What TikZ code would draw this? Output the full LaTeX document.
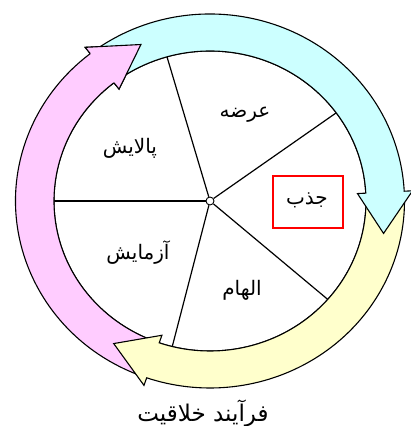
\documentclass[tikz,border=0pt]{standalone}
\usepackage{fontspec}
\newfontfamily\arabicfont[Script=Arabic]{DejaVu Sans}
\TeXXeTstate=1
\definecolor{arrcyan}{HTML}{CCFFFF}
\definecolor{arryellow}{HTML}{FFFFCC}
\definecolor{arrpink}{HTML}{FFCCFF}
\definecolor{boxred}{HTML}{FF0000}
\begin{document}
\begin{tikzpicture}[x=1pt,y=1pt,
  ringarrow/.style={draw=black, line width=1.1pt, line join=miter},
  spoke/.style={draw=black, line width=1.2pt},
  lbl/.style={font=\arabicfont\fontsize{20}{24}\selectfont, inner sep=0pt, text=black}]
\useasboundingbox (0,0) rectangle (410,426);
\begin{scope}[shift={(210,225)}, xscale=1.04]
  % inner disc
  \path[fill=white, draw=black, line width=1.1pt] (0,0) circle[radius=150];
  % spokes
  \node[circle, draw=black, fill=white, minimum size=8pt, inner sep=0pt, line width=0.9pt] (hub) at (0,0) {};
  \coordinate (s1) at (106:150);
  \coordinate (s2) at (36:150);
  \coordinate (s3) at (-41:150);
  \coordinate (s4) at (-104:150);
  \coordinate (s5) at (180:150);
  \foreach \s in {s1,s2,s3,s4,s5} {\draw[spoke] (hub) -- (\s);}
  % pink arrow
  \path[ringarrow, fill=arrpink] (248:150) -- (248:187) arc[start angle=248, end angle=128, radius=187]
    -- (128:195) -- (113:170) -- (128:142) -- (128:150)
    arc[start angle=128, end angle=248, radius=150] -- cycle;
  % yellow arrow
  \path[ringarrow, fill=arryellow] (0:150) -- (0:187) arc[start angle=0, end angle=-109, radius=187]
    -- (-109:195) -- (-123:170) -- (-109:142) -- (-109:150)
    arc[start angle=-109, end angle=0, radius=150] -- cycle;
  % cyan arrow
  \path[ringarrow, fill=arrcyan] (125:150) -- (125:187) arc[start angle=125, end angle=3, radius=187]
    -- (3:195) -- (-11:170) -- (3:142) -- (3:150)
    arc[start angle=3, end angle=125, radius=150] -- cycle;
  % pink head on top of cyan tail
  \fill[arrpink] (128:195) -- (113:170) -- (128:142) -- cycle;
  \draw[line width=1.1pt, line join=miter] (128:187) -- (128:195) -- (113:170) -- (128:142) -- (128:150);
\end{scope}
% labels
\node[lbl] (arza) at (245,311) {\beginR عرضه\endR};
\node[lbl] (palayesh) at (130,278) {\beginR پالایش\endR};
\node[draw=boxred, line width=1.2pt, minimum width=70pt, minimum height=52pt, inner sep=0pt] (jazb) at (308,224) {};
\node[lbl] (jazbtxt) at (307,226) {\beginR جذب\endR};
\node[lbl] (azmayesh) at (138,173) {\beginR آزمایش\endR};
\node[lbl] (elham) at (242,136) {\beginR الهام\endR};
\node[lbl, font=\arabicfont\fontsize{23}{26}\selectfont] (title) at (203,12) {\beginR فرآیند خلاقیت\endR};
\end{tikzpicture}
\end{document}
